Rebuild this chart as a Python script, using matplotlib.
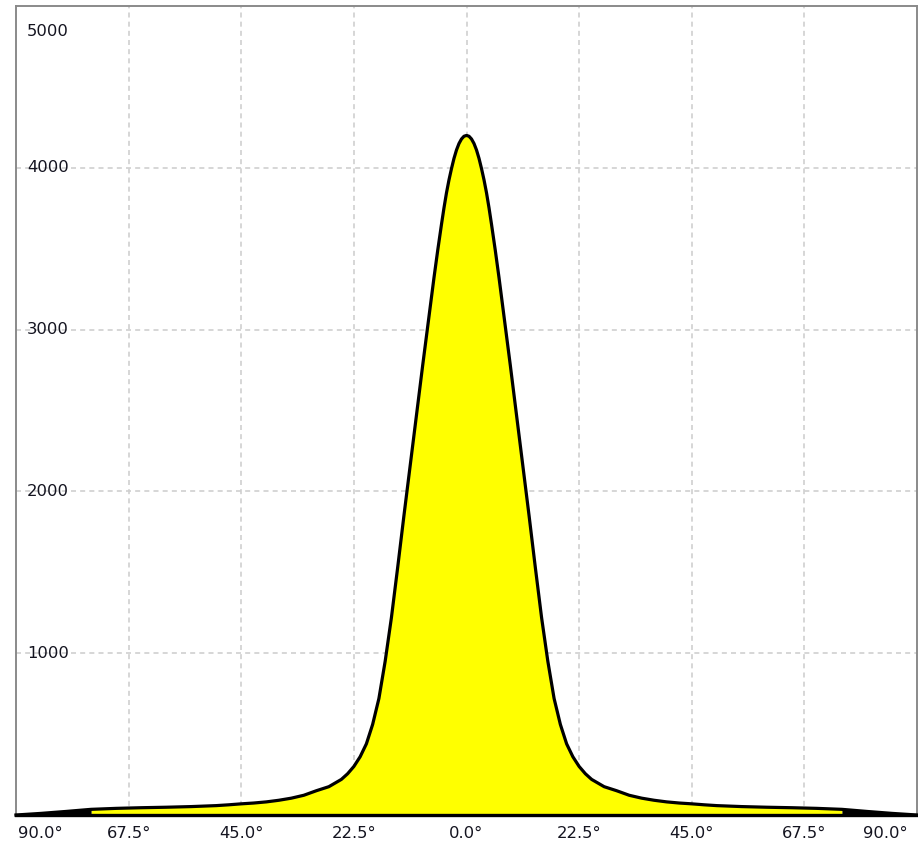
import matplotlib
matplotlib.use("Agg")
import matplotlib.pyplot as plt
import numpy as np

# ---- data ----
angles_pos = [0, 0.5, 1, 1.5, 2, 2.5, 3, 3.5, 4, 4.5, 5, 5.75, 6.5, 7.5, 8.75, 10,
              11.25, 12.5, 13.75, 15, 16.25, 17.5, 18.75, 20, 21.25, 22.5, 23.75,
              25, 27.5, 30, 32.5, 35, 37.5, 40, 42.5, 45, 47.5, 50, 55, 60, 65, 70,
              75, 80, 85, 90]
intensity_pos = [4200, 4195, 4178, 4150, 4110, 4058, 3995, 3925, 3845, 3752, 3650,
                 3490, 3320, 3080, 2780, 2470, 2160, 1850, 1530, 1220, 950, 720,
                 560, 440, 360, 300, 255, 220, 175, 150, 122, 104, 91, 81, 74, 69,
                 63, 58, 52, 48, 45, 41, 35, 22, 10, 0]
angles = [-a for a in angles_pos[:0:-1]] + angles_pos
intensity = intensity_pos[:0:-1] + intensity_pos

xticks = [-90, -67.5, -45, -22.5, 0, 22.5, 45, 67.5, 90]
xtick_labels = ["90.0°", "67.5°", "45.0°", "22.5°", "0.0°", "22.5°", "45.0°", "67.5°", "90.0°"]
yticks = [1000, 2000, 3000, 4000, 5000]
ytick_labels = ["1000", "2000", "3000", "4000", "5000"]

W, H = 918, 843
fig = plt.figure(figsize=(W / 100, H / 100), dpi=100)
ax = fig.add_axes([16 / W, (H - 815) / H, 901 / W, 809 / H])
ax.set_xlim(-90, 90)
ax.set_ylim(0, 5000)

x = np.array(angles)
y = np.array(intensity)

# grid
for xt in xticks[1:-1]:
    ax.axvline(xt, color="#cfcfcf", lw=1.2, ls=(0, (3, 2.5)), zorder=0)
for yt in yticks[:-1]:
    ax.axhline(yt, color="#cfcfcf", lw=1.2, ls=(0, (3, 2.5)), zorder=0)

inner = np.abs(x) <= 75
outer_l = x <= -75
outer_r = x >= 75
ax.fill_between(x, 0, y, where=inner, color="#ffff00", lw=0, zorder=1)
ax.fill_between(x, 0, y, where=outer_l, color="black", lw=0, zorder=1)
ax.fill_between(x, 0, y, where=outer_r, color="black", lw=0, zorder=1)
ax.plot(x, y, color="black", lw=2.3, solid_joinstyle="round", zorder=3, clip_on=False)

ax.set_xticks([])
ax.set_yticks([])

for s in ["left", "top", "right"]:
    ax.spines[s].set_color("#8a8a8a")
    ax.spines[s].set_linewidth(1.4)
ax.spines["bottom"].set_color("black")
ax.spines["bottom"].set_linewidth(2.4)
ax.spines["bottom"].set_zorder(4)

txtcol = "#141420"
fs = 11.8
# y labels inside
for v, lab in zip(yticks, ytick_labels):
    dy = -25 if v == 5000 else 0
    ax.annotate(lab, xy=(0, v), xycoords=("axes fraction", "data"),
                xytext=(11, dy), textcoords="offset pixels",
                ha="left", va="center", fontsize=fs, color=txtcol)

# x labels
for i, (v, lab) in enumerate(zip(xticks, xtick_labels)):
    if i == 0:
        ha, dx = "left", 2
    elif i == len(xticks) - 1:
        ha, dx = "right", -9
    else:
        ha, dx = "center", 0
    ax.annotate(lab, xy=(v, 0), xycoords=("data", "axes fraction"),
                xytext=(dx, -18), textcoords="offset pixels",
                ha=ha, va="center", fontsize=fs, color=txtcol,
                annotation_clip=False)

fig.savefig("out.png", dpi=100)
